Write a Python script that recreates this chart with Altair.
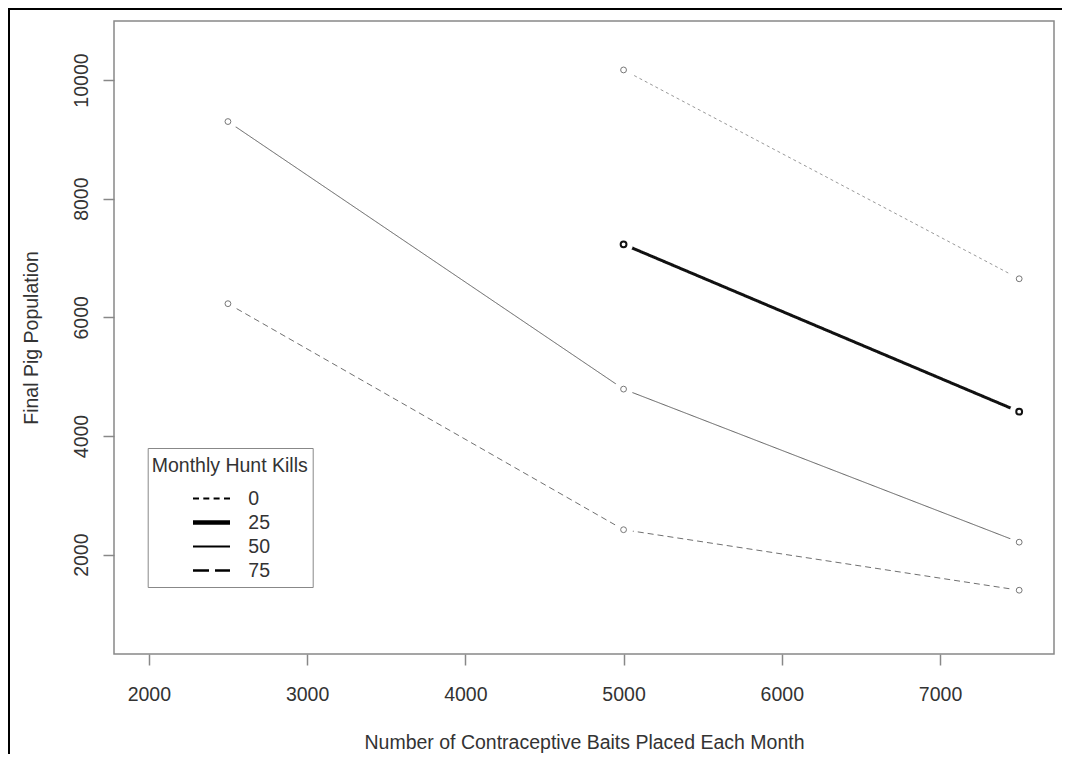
import altair as alt
import pandas as pd

FONT = "Liberation Sans"

kill_levels = ["0", "25", "50", "75"]
baits_0 = [5000, 7500]
pop_0 = [10170, 6650]
baits_25 = [5000, 7500]
pop_25 = [7230, 4410]
baits_50 = [2500, 5000, 7500]
pop_50 = [9300, 4790, 2210]
baits_75 = [2500, 5000, 7500]
pop_75 = [6230, 2420, 1400]
x_ticks = [2000, 3000, 4000, 5000, 6000, 7000]
y_ticks = [2000, 4000, 6000, 8000, 10000]

rows = []
for k, bx, py in zip(kill_levels, [baits_0, baits_25, baits_50, baits_75],
                     [pop_0, pop_25, pop_50, pop_75]):
    for b, p in zip(bx, py):
        rows.append({"Kills": k, "Baits": b, "Pop": p})
df = pd.DataFrame(rows)

# legend key glyphs (styling only): dotted, thick, solid, dashed
legend_paths = [
    "M-1,-0.06H-0.676V0.06H-1Z M-0.443,-0.06H-0.119V0.06H-0.443Z M0.114,-0.06H0.438V0.06H0.114Z M0.676,-0.06H1V0.06H0.676Z",
    "M-1,-0.12H1V0.12H-1Z",
    "M-1,-0.06H1V0.06H-1Z",
    "M-1,-0.068H-0.135V0.068H-1Z M0.19,-0.068H1V0.068H0.19Z",
]

xaxis = alt.Axis(values=x_ticks, format="d", grid=False, domain=False,
                 tickSize=11, tickColor="#888", tickWidth=1.5,
                 labelFont=FONT, labelFontSize=19.5, labelColor="#333",
                 labelPadding=35, labelBaseline="alphabetic", labelFlush=False,
                 title="Number of Contraceptive Baits Placed Each Month",
                 titleFont=FONT, titleFontSize=19.5, titleFontWeight="normal",
                 titleColor="#333", titleBaseline="alphabetic", titleAlign="center",
                 titleX=470, titleY=94.7)
yaxis = alt.Axis(values=y_ticks, format="d", grid=False, domain=False,
                 tickSize=11, tickColor="#888", tickWidth=1.5,
                 labelFont=FONT, labelFontSize=19.5, labelColor="#333",
                 labelAngle=270, labelAlign="center", labelBaseline="alphabetic",
                 labelPadding=15.5, labelFlush=False,
                 title="Final Pig Population",
                 titleFont=FONT, titleFontSize=19.5, titleFontWeight="normal",
                 titleColor="#333", titleAngle=270, titleBaseline="alphabetic",
                 titleAlign="center", titleX=-77, titleY=316.5)

base = alt.Chart(df).encode(
    x=alt.X("Baits:Q", scale=alt.Scale(domain=[1780, 7720], nice=False, zero=False), axis=xaxis),
    y=alt.Y("Pop:Q", scale=alt.Scale(domain=[325, 10995], nice=False, zero=False), axis=yaxis),
)

lines = base.mark_line().encode(
    detail="Kills:N",
    color={"condition": [{"test": "datum.Kills == '0'", "value": "#999999"},
                         {"test": "datum.Kills == '25'", "value": "#111111"},
                         {"test": "datum.Kills == '75'", "value": "#707070"}],
           "value": "#5e5e5e"},
    strokeDash={"condition": [{"test": "datum.Kills == '0'", "value": [3, 3]},
                              {"test": "datum.Kills == '75'", "value": [6, 4]}],
                "value": [1, 0]},
    strokeWidth=alt.condition(alt.datum.Kills == "25", alt.value(3), alt.value(1)),
)

mask = base.mark_point(filled=True, shape="circle", size=360, color="white", opacity=1)

circles = base.mark_point(shape="circle", filled=False, size=34, opacity=1).encode(
    color=alt.condition(alt.datum.Kills == "25", alt.value("#111111"), alt.value("#777777")),
    strokeWidth=alt.condition(alt.datum.Kills == "25", alt.value(2), alt.value(1)),
)

legend_layer = base.mark_point(filled=True, color="black").encode(
    shape=alt.Shape("Kills:N", scale=alt.Scale(domain=kill_levels, range=legend_paths),
                    legend=alt.Legend(
                        title="Monthly Hunt Kills", orient="none", legendX=33.7, legendY=427,
                        direction="vertical", padding=4, strokeColor="#888", fillColor="white",
                        cornerRadius=0, symbolSize=1369, symbolStrokeWidth=0,
                        symbolFillColor="black", symbolOpacity=1,
                        symbolOffset=41.3, labelOffset=18.3,
                        clipHeight=24, rowPadding=0, titlePadding=15,
                        titleBaseline="line-top", titleLineHeight=29,
                        titleFont=FONT, titleFontSize=19.5, titleFontWeight="normal",
                        titleColor="#333",
                        labelFont=FONT, labelFontSize=19.5, labelColor="#333",
                        labelBaseline="middle")),
).transform_filter(alt.datum.Pop < 0)

deco = pd.DataFrame({"d": [0]})
top_line = alt.Chart(deco).mark_rule(color="black", strokeWidth=3).encode(
    x=alt.value(-106), x2=alt.value(948), y=alt.value(-12.5))
left_line = alt.Chart(deco).mark_rule(color="black", strokeWidth=3).encode(
    x=alt.value(-105.5), y=alt.value(-13), y2=alt.value(733))

chart = alt.layer(lines, mask, circles, legend_layer, top_line, left_line).properties(
    width=940, height=633,
    padding={"left": 106, "top": 13, "right": 8, "bottom": 100},
    autosize=alt.AutoSizeParams(type="none"),
    background="white",
).configure_view(stroke="#888", strokeWidth=1.5)

chart.save("out.html", embed_options={"renderer": "svg", "actions": False})
